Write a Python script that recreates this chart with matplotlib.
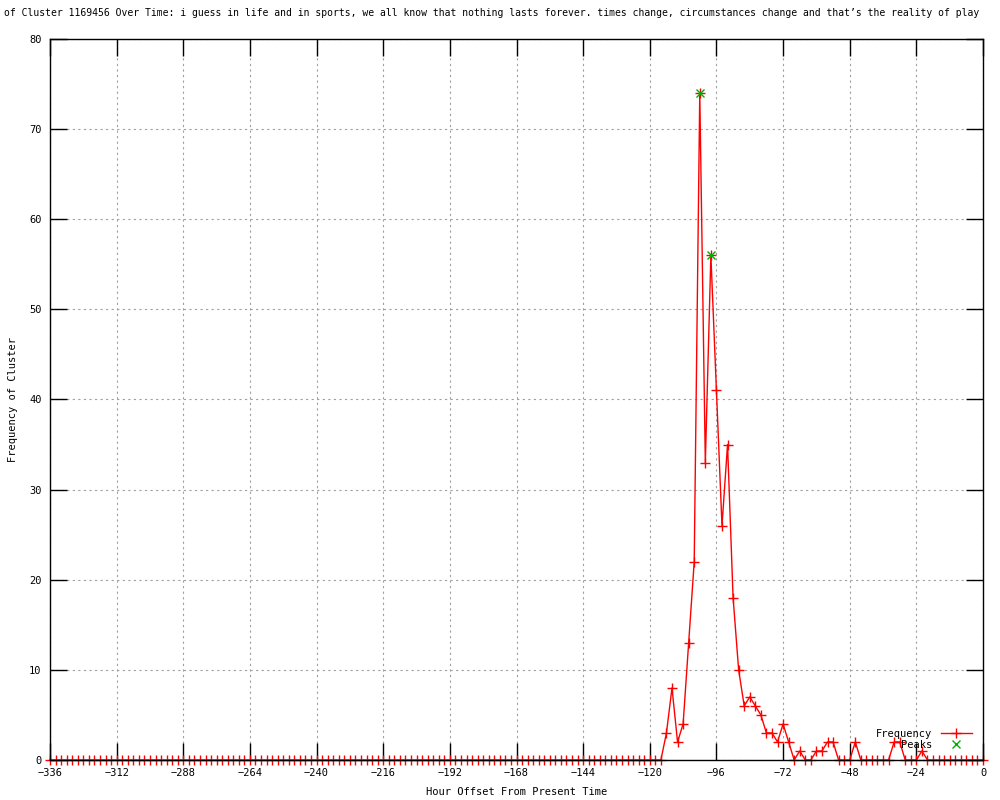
import numpy as np
import matplotlib
matplotlib.use('Agg')
import matplotlib.pyplot as plt

# hours every 2h from -336 to 0
hours = np.arange(-336, 1, 2)
# non-zero counts (everything else is 0)
nonzero = {-114: 3, -112: 8, -110: 2, -108: 4, -106: 13, -104: 22, -102: 74,
           -100: 33, -98: 56, -96: 41, -94: 26, -92: 35, -90: 18, -88: 10,
           -86: 6, -84: 7, -82: 6, -80: 5, -78: 3, -76: 3, -74: 2, -72: 4,
           -70: 2, -66: 1, -60: 1, -58: 1, -56: 2, -54: 2, -46: 2,
           -32: 2, -30: 2, -22: 1}
freq = [nonzero.get(int(h), 0) for h in hours]
peak_x = [-102, -98]
peak_y = [74, 56]

title = ("of Cluster 1169456 Over Time: i guess in life and in sports, we all know that "
         "nothing lasts forever. times change, circumstances change and that\u2019s the reality of play")

plt.rcParams['font.family'] = ['DejaVu Sans Mono']
fig = plt.figure(figsize=(10, 8), dpi=100)
ax = fig.add_axes([0.05, 0.05, 0.933, 0.90125])

ax.plot(hours, freq, color='red', lw=1, marker='+', ms=7, mew=1, label='Frequency', clip_on=False)
ax.plot(peak_x, peak_y, ls='none', marker='x', color='#00b000', ms=6, mew=1, label='Peaks')

ax.set_xlim(-336, 0)
ax.set_ylim(0, 80)
ax.set_xticks(np.arange(-336, 1, 24))
ax.set_yticks(np.arange(0, 81, 10))
ax.grid(True, color='#a0a0a0', ls=(0, (2, 3)), lw=0.8)
ax.tick_params(direction='in', length=12, width=1, top=True, right=True, labelsize=7.5, pad=6)
for s in ax.spines.values():
    s.set_linewidth(1)
    s.set_zorder(3)

ax.set_xlabel('Hour Offset From Present Time', fontsize=7.5, labelpad=6)
ax.set_ylabel('Frequency of Cluster', fontsize=7.5, labelpad=8)
fig.text(0.004, 0.984, title, fontsize=7.05, ha='left', va='center')

leg = ax.legend(loc='lower right', bbox_to_anchor=(0.988, 0.014), fontsize=7.5, frameon=False,
                markerfirst=False, handlelength=3, borderaxespad=0, borderpad=0,
                labelspacing=0.1, handletextpad=0.8)
for t in leg.get_texts():
    t.set_ha('right')

fig.savefig('out.png', dpi=100)
